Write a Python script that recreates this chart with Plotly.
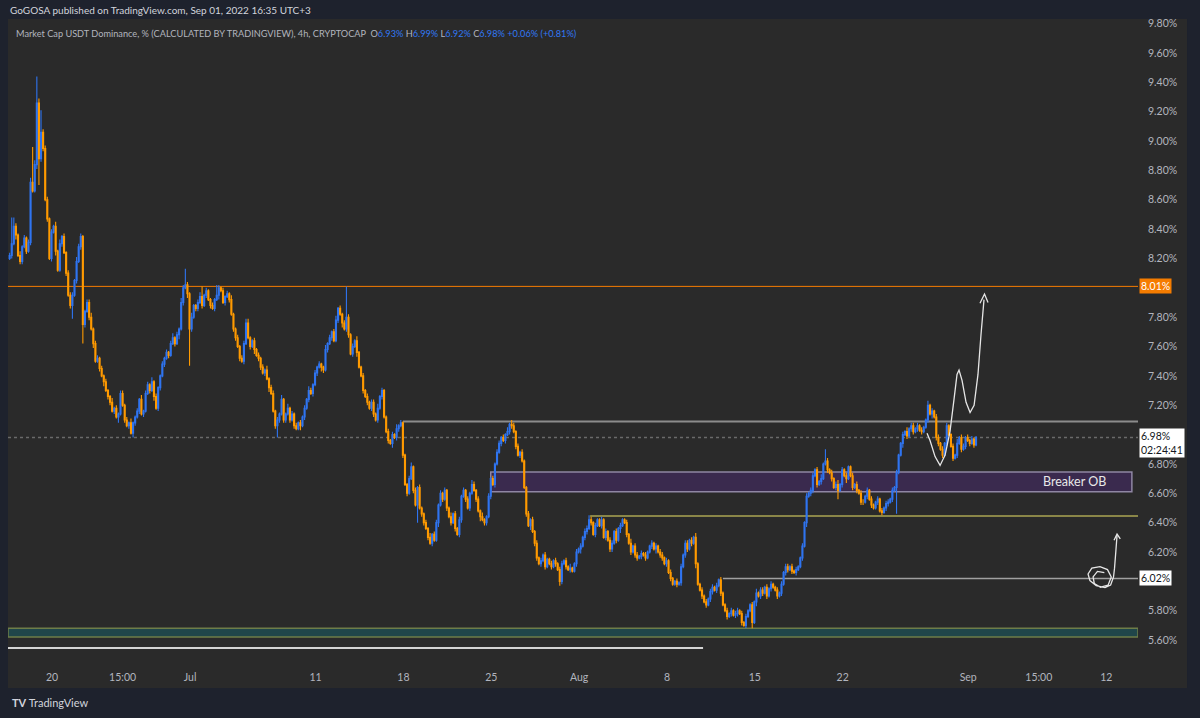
import pandas as pd
import plotly.graph_objects as go

# ---------------- data (USDT dominance, 4h candles) ----------------
FIRST_OPEN = 8.20
CLOSE = [
    8.22, 8.30, 8.42, 8.36, 8.22, 8.18,
    8.28, 8.34, 8.25, 8.31, 8.72, 8.66,
    8.84, 9.26, 8.88, 9.06, 8.95, 8.60,
    8.47, 8.20, 8.38, 8.42, 8.25, 8.12,
    8.30, 8.35, 8.24, 8.10, 7.95, 7.88,
    7.95, 8.05, 8.18, 8.28, 8.35, 7.75,
    7.84, 7.90, 7.80, 7.72, 7.62, 7.50,
    7.52, 7.45, 7.40, 7.36, 7.30, 7.26,
    7.22, 7.16, 7.18, 7.12, 7.14, 7.28,
    7.20, 7.10, 7.06, 7.08, 7.01, 7.08,
    7.12, 7.16, 7.24, 7.14, 7.16, 7.28,
    7.34, 7.30, 7.36, 7.26, 7.18, 7.32,
    7.40, 7.48, 7.52, 7.56, 7.54, 7.62,
    7.66, 7.62, 7.68, 7.72, 7.90, 8.00,
    8.02, 7.96, 7.72, 7.80, 7.88, 7.86,
    7.90, 7.94, 7.88, 7.95, 7.98, 7.92,
    7.88, 7.86, 7.92, 7.95, 8.00, 7.98,
    7.90, 7.94, 7.96, 7.92, 7.82, 7.72,
    7.66, 7.60, 7.52, 7.50, 7.62, 7.76,
    7.66, 7.60, 7.64, 7.58, 7.54, 7.52,
    7.46, 7.42, 7.44, 7.38, 7.32, 7.28,
    7.16, 7.06, 7.10, 7.14, 7.24, 7.10,
    7.14, 7.18, 7.10, 7.14, 7.06, 7.04,
    7.08, 7.06, 7.12, 7.18, 7.24, 7.30,
    7.28, 7.34, 7.42, 7.46, 7.48, 7.46,
    7.44, 7.58, 7.62, 7.66, 7.70, 7.64,
    7.78, 7.86, 7.82, 7.76, 7.72, 7.80,
    7.68, 7.55, 7.60, 7.64, 7.56, 7.46,
    7.40, 7.30, 7.26, 7.22, 7.18, 7.22,
    7.14, 7.10, 7.18, 7.26, 7.30, 7.12,
    7.02, 6.96, 6.94, 7.00, 6.98, 7.04,
    7.06, 7.08, 6.86, 6.66, 6.60, 6.70,
    6.78, 6.62, 6.52, 6.64, 6.50, 6.46,
    6.40, 6.36, 6.30, 6.26, 6.32, 6.28,
    6.40, 6.52, 6.60, 6.56, 6.62, 6.50,
    6.44, 6.40, 6.46, 6.36, 6.32, 6.42,
    6.58, 6.62, 6.56, 6.50, 6.60, 6.66,
    6.62, 6.56, 6.48, 6.44, 6.42, 6.40,
    6.44, 6.58, 6.70, 6.66, 6.80, 6.88,
    6.94, 6.98, 6.96, 7.00, 7.02, 7.07,
    7.06, 7.02, 6.92, 6.86, 6.88, 6.82,
    6.64, 6.46, 6.38, 6.42, 6.34, 6.26,
    6.16, 6.12, 6.14, 6.18, 6.10, 6.15,
    6.12, 6.10, 6.14, 6.12, 6.08, 6.00,
    6.12, 6.14, 6.10, 6.08, 6.09, 6.07,
    6.12, 6.20, 6.22, 6.24, 6.30, 6.34,
    6.36, 6.42, 6.40, 6.32, 6.38, 6.42,
    6.38, 6.42, 6.30, 6.34, 6.28, 6.22,
    6.26, 6.34, 6.28, 6.36, 6.38, 6.42,
    6.40, 6.32, 6.26, 6.20, 6.24, 6.18,
    6.16, 6.17, 6.19, 6.18, 6.16, 6.20,
    6.24, 6.26, 6.22, 6.24, 6.20, 6.18,
    6.16, 6.12, 6.14, 6.06, 6.02, 5.98,
    6.00, 5.98, 5.99, 6.10, 6.18, 6.26,
    6.22, 6.28, 6.26, 6.30, 6.12, 5.98,
    5.94, 5.90, 5.86, 5.84, 5.88, 5.93,
    5.96, 5.94, 5.97, 6.01, 5.92, 5.84,
    5.80, 5.76, 5.78, 5.80, 5.77, 5.78,
    5.80, 5.78, 5.72, 5.70, 5.76, 5.80,
    5.84, 5.72, 5.86, 5.92, 5.90, 5.94,
    5.92, 5.96, 5.90, 5.95, 5.98, 5.96,
    5.94, 5.90, 5.92, 5.98, 6.06, 6.10,
    6.08, 6.10, 6.07, 6.06, 6.08, 6.10,
    6.16, 6.24, 6.40, 6.58, 6.60, 6.62,
    6.72, 6.76, 6.66, 6.68, 6.70, 6.80,
    6.82, 6.76, 6.74, 6.70, 6.64, 6.66,
    6.62, 6.66, 6.76, 6.72, 6.70, 6.78,
    6.72, 6.64, 6.66, 6.62, 6.60, 6.54,
    6.54, 6.58, 6.62, 6.56, 6.52, 6.50,
    6.54, 6.56, 6.48, 6.47, 6.50, 6.53,
    6.54, 6.56, 6.62, 6.64, 6.74, 6.86,
    6.94, 7.00, 7.02, 6.99, 7.04, 7.06,
    7.02, 7.04, 7.06, 7.03, 7.02, 7.05,
    7.10, 7.20, 7.14, 7.16, 7.12, 6.98,
    6.94, 6.90, 6.86, 6.94, 7.06, 7.00,
    6.92, 6.84, 6.86, 6.94, 6.98, 6.90,
    6.92, 6.98, 6.96, 6.94, 6.97, 6.93, 6.98,
]
# wick lengths above / below the body, in hundredths of a percent (one digit per candle)
WICK_UP = (
    "216213121231303322212131312122213221122312212121131212212131"
    "121312213121121212312132221311232121121321212131121223311212"
    "121312212131131212121213212121131212312123212131121212213121"
    "121213121112312121121312212121131212121213212131121212212131"
    "121212112121212121121212212131121212212121121212212121121312"
    "212121121212212121121212212131121212212121121212212121121312"
    "212121121212212121121212212131121212312121121212212121121212"
    "2121211213122121211312122121211213122121211"
)
WICK_DN = (
    "121312212121131221212131121212312121212131121312212141121213"
    "212121121312212121121312131212212121212131121212212121121312"
    "212131121212212121131212121213212121121312212131121212212121"
    "121312212121121312212121131212121212212121121312212121121212"
    "212121121312212121121212212121121312212121121212212131121212"
    "212121121312212121121212212131121212212121121212212121121312"
    "212121121212212121121312212121121212212131121212212121121212"
    "2121211312122121211213122121211212121212121"
)
# long wicks (candle index -> price)
HIGH_FIX = {1: 8.48, 11: 8.96, 13: 9.44, 15: 9.21, 84: 8.13, 92: 8.01, 99: 8.02,
            161: 8.01, 187: 7.10, 240: 7.10, 277: 6.45, 340: 6.03, 390: 6.90,
            439: 7.23, 462: 6.99}
LOW_FIX = {14: 8.70, 30: 7.79, 35: 7.62, 59: 6.98, 86: 7.47, 128: 6.98, 195: 6.40,
           263: 5.97, 355: 5.68, 396: 6.56, 424: 6.46, 462: 6.92}

START = "2022-06-16 15:00"
T0 = pd.Timestamp("2022-06-20")

TICK_DATES = ["2022-06-20", "2022-06-25 15:00", "2022-07-01", "2022-07-11", "2022-07-18",
              "2022-07-25", "2022-08-01", "2022-08-08", "2022-08-15", "2022-08-22",
              "2022-09-01", "2022-09-06 15:00", "2022-09-12"]
TICK_TEXT = ["20", "15:00", "Jul", "11", "18", "25", "Aug", "8", "15", "22", "Sep", "15:00", "12"]
Y_TICKS = [5.6, 5.8, 6.2, 6.4, 6.6, 6.8, 7.2, 7.4, 7.6, 7.8, 8.2, 8.4, 8.6, 8.8, 9.0,
           9.2, 9.4, 9.6, 9.8]

RESIST = 8.01
RANGE_HIGH = 7.09
LAST = 6.98
OB_LOW, OB_HIGH = 6.61, 6.745
MID_LEVEL = 6.445
LOW_LEVEL = 6.02
BAND_LOW, BAND_HIGH = 5.62, 5.68
BASE_LINE = 5.545

# hand-drawn projections (day, price)
SKETCH_A = [(69.72, 7.01), (69.96, 6.96), (70.36, 6.85), (70.76, 6.79), (71.16, 6.86),
            (71.55, 7.02), (71.87, 7.24), (72.11, 7.41), (72.27, 7.44), (72.51, 7.37),
            (72.83, 7.22), (73.15, 7.15), (73.47, 7.20), (73.78, 7.41), (74.02, 7.68),
            (74.26, 7.92)]
ARROW_A = [(73.94, 7.895), (74.30, 7.958), (74.58, 7.90)]
SKETCH_B = [(84.86, 6.315), (84.76, 6.20), (84.66, 6.09), (84.58, 6.03), (84.35, 5.975),
            (83.90, 5.957), (83.20, 5.97), (82.70, 6.005), (82.55, 6.05), (82.85, 6.09),
            (83.50, 6.100), (84.10, 6.08), (84.40, 6.03), (84.15, 5.975), (83.55, 5.96),
            (83.05, 5.985), (82.95, 6.03), (83.30, 6.068), (83.85, 6.06)]
ARROW_B = [(84.62, 6.28), (84.86, 6.322), (85.12, 6.29)]

# ---------------- build ----------------
n = len(CLOSE)
OPEN = [FIRST_OPEN] + CLOSE[:-1]
HIGH, LOW = [], []
for i in range(n):
    up = int(WICK_UP[i]) if i < len(WICK_UP) else 1
    dn = int(WICK_DN[i]) if i < len(WICK_DN) else 1
    HIGH.append(HIGH_FIX.get(i, round(max(OPEN[i], CLOSE[i]) + up / 100, 3)))
    LOW.append(LOW_FIX.get(i, round(min(OPEN[i], CLOSE[i]) - dn / 100, 3)))

dates = pd.date_range(START, periods=n, freq="4h")


def day(t):
    return (pd.Timestamp(t) - T0) / pd.Timedelta(days=1)


X = [(d - T0) / pd.Timedelta(days=1) for d in dates]
TICK_X = [day(t) for t in TICK_DATES]

BLUE = "#2f74f0"
ORANGE = "#ff9a00"
LINE_OR = "#f57c00"
PANEL = "#2a2a2a"
OUTER = "#1e222d"
TXT = "#b2b5be"
FONT = "Lato"

X0, X1 = -3.506, 86.53
Y0, Y1 = 5.430, 9.832

fig = go.Figure()
fig.add_trace(go.Candlestick(
    x=X, open=OPEN, high=HIGH, low=LOW, close=CLOSE,
    increasing=dict(line=dict(color=BLUE, width=1.1), fillcolor=BLUE),
    decreasing=dict(line=dict(color=ORANGE, width=1.1), fillcolor=ORANGE),
    whiskerwidth=0, hoverinfo="skip", showlegend=False,
))


def path(pts):
    return "M " + " L ".join(f"{a},{b}" for a, b in pts)


shapes = [
    # panel
    dict(type="rect", xref="paper", yref="paper", x0=0, x1=1.0434, y0=-0.0356, y1=1.0,
         fillcolor=PANEL, line=dict(width=0), layer="below"),
    # breaker OB zone
    dict(type="rect", x0=day("2022-07-24 23:00"), x1=day("2022-09-14 01:00"), y0=OB_LOW, y1=OB_HIGH,
         fillcolor="#3a2a4e", line=dict(color="#8f86a3", width=1.5), layer="below"),
    # teal band
    dict(type="rect", x0=X0, x1=X1, y0=BAND_LOW, y1=BAND_HIGH,
         fillcolor="#20464a", line=dict(color="#6e7d48", width=1.5), layer="below"),
    dict(type="line", x0=X0, x1=X1, y0=RESIST, y1=RESIST, line=dict(color=LINE_OR, width=1), layer="below"),
    dict(type="line", x0=day("2022-07-17 23:00"), x1=X1, y0=RANGE_HIGH, y1=RANGE_HIGH,
         line=dict(color="#8c8c8c", width=2), layer="below"),
    dict(type="line", x0=X0, x1=X1, y0=LAST, y1=LAST,
         line=dict(color="#6a6a6a", width=1.5, dash="dot"), layer="below"),
    dict(type="line", x0=day("2022-08-01 21:00"), x1=X1, y0=MID_LEVEL, y1=MID_LEVEL,
         line=dict(color="#8a8648", width=2), layer="below"),
    dict(type="line", x0=day("2022-08-12 11:00"), x1=X1, y0=LOW_LEVEL, y1=LOW_LEVEL,
         line=dict(color="#a0a0a0", width=1.5), layer="below"),
    dict(type="line", x0=X0, x1=day("2022-08-10 21:00"), y0=BASE_LINE, y1=BASE_LINE,
         line=dict(color="#d4d4d4", width=2), layer="below"),
    # sketches
    dict(type="path", path=path(SKETCH_A), line=dict(color="#e6e6e6", width=1.3)),
    dict(type="path", path=path(ARROW_A), line=dict(color="#e6e6e6", width=1.3)),
    dict(type="path", path=path(SKETCH_B), line=dict(color="#e6e6e6", width=1.3)),
    dict(type="path", path=path(ARROW_B), line=dict(color="#e6e6e6", width=1.3)),
]

vals = "color:#3179f5"
header = (f"Market Cap USDT Dominance, % (CALCULATED BY TRADINGVIEW), 4h, CRYPTOCAP  "
          f"O<span style='{vals}'>{OPEN[-1]:.2f}%</span> H<span style='{vals}'>{HIGH[-1]:.2f}%</span> "
          f"L<span style='{vals}'>{LOW[-1]:.2f}%</span> C<span style='{vals}'>{CLOSE[-1]:.2f}%</span> "
          f"<span style='{vals}'>+0.06% (+0.81%)</span>")

annotations = [
    dict(xref="paper", yref="paper", x=0, y=1.0139, xanchor="left", yanchor="middle",
         text="GoGOSA published on TradingView.com, Sep 01, 2022 16:35 UTC+3",
         showarrow=False, font=dict(family=FONT, size=10, color="#d1d4dc")),
    dict(xref="paper", yref="paper", x=0.0053, y=0.978, xanchor="left", yanchor="middle",
         text=header, showarrow=False, font=dict(family=FONT, size=9.2, color=TXT)),
    dict(xref="paper", yref="paper", x=0.0018, y=-0.0588, xanchor="left", yanchor="middle",
         text="<b>TV</b> TradingView", showarrow=False,
         font=dict(family=FONT, size=11, color="#d1d4dc")),
    dict(x=day("2022-09-09 12:00"), y=(OB_LOW + OB_HIGH) / 2, text="Breaker OB", showarrow=False,
         font=dict(family=FONT, size=12.5, color="#e8e8e8")),
    dict(xref="paper", x=1.0, xshift=1, xanchor="left", y=RESIST, text=f"{RESIST:.2f}%",
         showarrow=False, bgcolor=LINE_OR, borderpad=1,
         font=dict(family=FONT, size=10.5, color="#ffffff")),
    dict(xref="paper", x=1.0, xshift=1, xanchor="left", y=LAST, yshift=-5, align="left",
         text=f"{LAST:.2f}%<br>02:24:41", showarrow=False, bgcolor="#ffffff", borderpad=1,
         font=dict(family=FONT, size=10.5, color="#131722")),
    dict(xref="paper", x=1.0, xshift=1, xanchor="left", y=LOW_LEVEL, text=f"{LOW_LEVEL:.2f}%",
         showarrow=False, bgcolor="#ffffff", borderpad=1,
         font=dict(family=FONT, size=10.5, color="#131722")),
]

fig.update_layout(
    width=1200, height=718, autosize=False,
    margin=dict(l=8, r=62, t=19, b=53),
    paper_bgcolor=OUTER, plot_bgcolor=PANEL,
    shapes=shapes, annotations=annotations, showlegend=False,
    xaxis=dict(range=[X0, X1], tickvals=TICK_X, ticktext=TICK_TEXT, showgrid=False,
               zeroline=False, showline=False, ticks="", ticklabelstandoff=4,
               tickfont=dict(family=FONT, size=10.5, color=TXT), rangeslider=dict(visible=False),
               fixedrange=True),
    yaxis=dict(range=[Y0, Y1], side="right", tickvals=Y_TICKS,
               ticktext=[f"{v:.2f}%" for v in Y_TICKS], showgrid=False, zeroline=False,
               showline=False, ticks="", ticklabelstandoff=9,
               tickfont=dict(family=FONT, size=10.5, color=TXT), fixedrange=True),
)

fig.write_html("out.html")
